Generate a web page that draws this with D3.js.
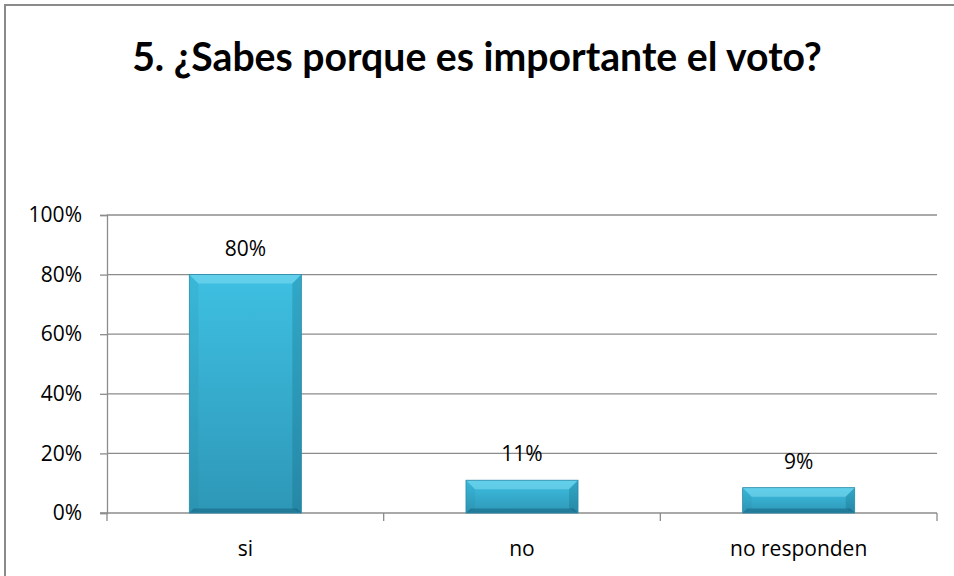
<!DOCTYPE html>
<html>
<head>
<meta charset="utf-8">
<script src="https://cdn.jsdelivr.net/npm/d3@7"></script>
<style>
  body { margin: 0; background: #fff; }
  svg text { font-family: "Open Sans", sans-serif; fill: #000; }
</style>
</head>
<body>
<svg id="chart"></svg>
<script>
const categories = ["si", "no", "no responden"];
const values = [0.80, 0.11, 0.085];
const yTicks = [0, 0.2, 0.4, 0.6, 0.8, 1.0];
const title = "5. ¿Sabes porque es importante el voto?";

const width = 954, height = 576;
const plot = { left: 107, right: 937, top: 215, bottom: 513 };

const svg = d3.select("#chart").attr("width", width).attr("height", height);

// outer frame (right/bottom run off the picture)
svg.append("rect")
   .attr("x", 5).attr("y", 5)
   .attr("width", width + 10).attr("height", height + 10)
   .attr("fill", "none").attr("stroke", "#8a8a8a").attr("stroke-width", 2);

const x = d3.scaleBand().domain(categories).range([plot.left, plot.right]).paddingInner(0.595).paddingOuter(0.2975);
const xOuter = d3.scaleBand().domain(categories).range([plot.left, plot.right]);
const y = d3.scaleLinear().domain([0, 1]).range([plot.bottom, plot.top]);

// gridlines
svg.append("g").selectAll("line")
   .data(yTicks.filter(d => d > 0))
   .enter().append("line")
   .attr("x1", plot.left).attr("x2", plot.right)
   .attr("y1", d => y(d)).attr("y2", d => y(d))
   .attr("stroke", "#8c8c8c").attr("stroke-width", 1.3);

// y axis
const yAxis = svg.append("g")
   .attr("transform", `translate(${plot.left},0)`)
   .call(d3.axisLeft(y).tickValues(yTicks).tickFormat(d3.format(".0%")).tickSize(7).tickPadding(18));
yAxis.select(".domain").attr("stroke", "#8c8c8c").attr("stroke-width", 1.3);
yAxis.selectAll(".tick line").attr("stroke", "#8c8c8c").attr("stroke-width", 1.3);
yAxis.selectAll(".tick text").style("font-size", "21px").attr("font-family", null).attr("fill", "#000");

// x axis
const xAxis = svg.append("g").attr("transform", `translate(0,${plot.bottom})`);
xAxis.append("line")
   .attr("x1", plot.left - 7).attr("x2", plot.right)
   .attr("stroke", "#8c8c8c").attr("stroke-width", 1.3);
xAxis.selectAll("line.tk")
   .data(categories)
   .enter().append("line").attr("class", "tk")
   .attr("x1", d => xOuter(d) + xOuter.bandwidth()).attr("x2", d => xOuter(d) + xOuter.bandwidth())
   .attr("y1", 0).attr("y2", 8)
   .attr("stroke", "#8c8c8c").attr("stroke-width", 1.3);
xAxis.append("line")
   .attr("x1", plot.left).attr("x2", plot.left).attr("y1", 0).attr("y2", 8)
   .attr("stroke", "#8c8c8c").attr("stroke-width", 1.3);
xAxis.selectAll("text")
   .data(categories)
   .enter().append("text")
   .attr("x", d => x(d) + x.bandwidth() / 2)
   .attr("y", 43)
   .attr("text-anchor", "middle")
   .style("font-size", "21px")
   .text(d => d);

// bar gradient
const defs = svg.append("defs");
const grad = defs.append("linearGradient").attr("id", "barGrad").attr("x1", 0).attr("y1", 0).attr("x2", 0).attr("y2", 1);
grad.append("stop").attr("offset", "0%").attr("stop-color", "#3ec0e2");
grad.append("stop").attr("offset", "100%").attr("stop-color", "#2e97b7");

const bars = svg.append("g").selectAll("g")
   .data(values)
   .enter().append("g");

const bev = 9;
bars.append("rect")
   .attr("x", (d, i) => x(categories[i]))
   .attr("y", d => y(d))
   .attr("width", x.bandwidth())
   .attr("height", d => plot.bottom - y(d))
   .attr("fill", "url(#barGrad)");

// bevel edges
function bevel(d, i, side) {
  const x0 = x(categories[i]), x1 = x0 + x.bandwidth();
  const y0 = y(d), y1 = plot.bottom;
  const b = Math.min(bev, (y1 - y0) / 2.5);
  const bb = b * 0.5;
  if (side === "top") return [[x0, y0], [x1, y0], [x1 - b, y0 + b], [x0 + b, y0 + b]];
  if (side === "bottom") return [[x0, y1], [x1, y1], [x1 - bb, y1 - bb], [x0 + bb, y1 - bb]];
  if (side === "left") return [[x0, y0], [x0 + b, y0 + b], [x0 + b, y1 - bb], [x0, y1]];
  return [[x1, y0], [x1 - b, y0 + b], [x1 - b, y1 - bb], [x1, y1]];
}
const bevelFill = { top: "rgba(130,220,242,0.55)", left: "rgba(30,120,150,0.12)", right: "rgba(10,80,105,0.22)", bottom: "rgba(10,70,95,0.35)" };
["top", "left", "right", "bottom"].forEach(side => {
  bars.append("polygon")
     .attr("points", (d, i) => bevel(d, i, side).map(p => p.join(",")).join(" "))
     .attr("fill", bevelFill[side]);
});
bars.append("rect")
   .attr("x", (d, i) => x(categories[i]))
   .attr("y", d => y(d))
   .attr("width", x.bandwidth())
   .attr("height", d => plot.bottom - y(d))
   .attr("fill", "none").attr("stroke", "#2a8aa8").attr("stroke-width", 0.8);

// data labels
bars.append("text")
   .attr("x", (d, i) => x(categories[i]) + x.bandwidth() / 2)
   .attr("y", d => y(d) - 19)
   .attr("text-anchor", "middle")
   .style("font-size", "21px")
   .text(d => Math.round(d * 100) + "%");

// title
const t = svg.append("text")
   .attr("x", 477).attr("y", 71)
   .attr("text-anchor", "middle")
   .style("font-family", "'Liberation Sans Narrow', Lato, sans-serif")
   .style("font-weight", "bold")
   .style("font-size", "34px")
   .text(title);
const tw = t.node().getComputedTextLength();
t.style("font-size", Math.min(40, 34 * 690 / tw) + "px");
</script>
</body>
</html>
